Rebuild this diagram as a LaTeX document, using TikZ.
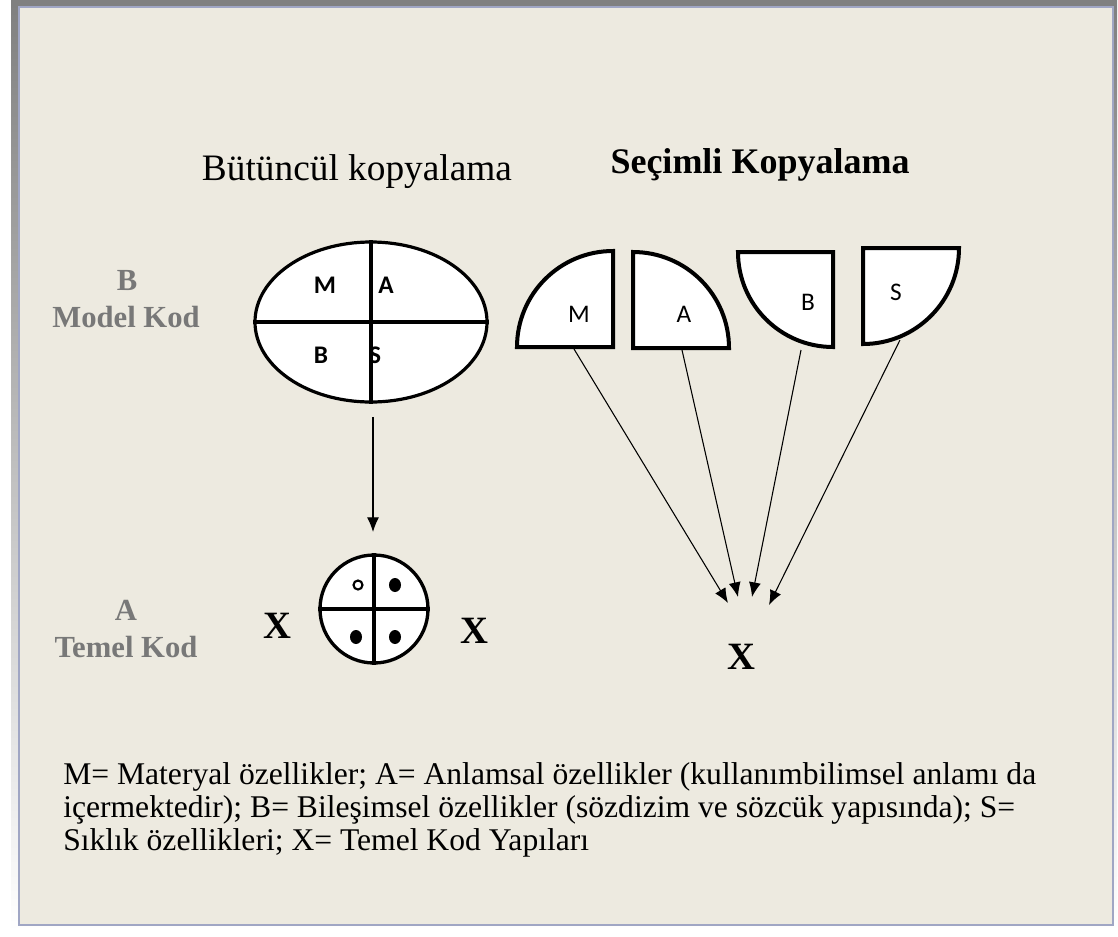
\documentclass[tikz,border=0pt]{standalone}
\usepackage{fontspec}
\setmainfont{Liberation Serif}
\newfontfamily\calibri{Carlito}
\usetikzlibrary{arrows.meta,shapes.geometric}

\definecolor{paper}{RGB}{237,234,224}
\definecolor{shade}{RGB}{165,165,165}
\definecolor{rim}{RGB}{160,166,196}
\definecolor{steel}{RGB}{120,120,120}

\begin{document}
\begin{tikzpicture}[x=0.75pt,y=0.75pt,yscale=-1,xscale=1,
  piece/.style={draw, fill=white, line width=3pt, line join=miter},
  pointer/.style={-{Latex[length=11pt,width=9pt]}, line width=0.8pt},
  title/.style={anchor=base, inner sep=0pt, font=\fontsize{28}{32}\selectfont},
  codelbl/.style={anchor=base, inner sep=0pt, text=steel, font=\bfseries\fontsize{23}{27}\selectfont},
  xmark/.style={inner sep=0pt, font=\bfseries\fontsize{29}{30}\selectfont},
  part/.style={inner sep=0pt, font=\calibri\fontsize{19}{22}\selectfont},
  legend/.style={anchor=base west, inner sep=0pt, font=\fontsize{23.7}{27}\selectfont}]
\useasboundingbox (0,0) rectangle (1118,936);

%Shape: Frame
\fill [white] (0,0) rectangle (1118,936) ;
\fill [shade] (11,0) rectangle (1117,931) ;
\fill [paper, draw=rim, line width=0.8pt] (19,7) rectangle (1113,925) ;

% Text Node
\node [title] (whole-title) at (357,180) {Bütüncül kopyalama};
% Text Node
\node [title, font=\bfseries\fontsize{27}{32}\selectfont] (part-title) at (760,173) {Seçimli Kopyalama};

% Text Node
\node [codelbl] (model-letter) at (127,290) {B};
\node [codelbl] (model-code) at (126,327) {Model Kod};
% Text Node
\node [codelbl] (base-letter) at (126,620) {A};
\node [codelbl] (base-code) at (126,657) {Temel Kod};

%Shape: Ellipse
\node [draw, ellipse, line width=2.4pt, fill=white, minimum width=174pt, minimum height=120pt, inner sep=0pt] (whole) at (371,322) {};
\draw [line width=2.4pt] (whole.north) -- (whole.south) ;
\draw [line width=2.4pt] (whole.west) -- (whole.east) ;
\node [part, font=\calibri\bfseries\fontsize{19}{22}\selectfont] (w-m) at (325,285) {M};
\node [part, font=\calibri\bfseries\fontsize{19}{22}\selectfont] (w-a) at (386,285) {A};
\node [part, font=\calibri\bfseries\fontsize{19}{22}\selectfont] (w-b) at (321,355) {B};
\node [part, font=\calibri\bfseries\fontsize{19}{22}\selectfont] (w-s) at (375,355) {S};

%Shape: Circle
\node [draw, circle, line width=2.5pt, fill=white, minimum size=81pt, inner sep=0pt] (base) at (374,609) {};
\draw [line width=2.5pt] (base.north) -- (base.south) ;
\draw [line width=2.5pt] (base.west) -- (base.east) ;
\draw [line width=1.6pt] (358,585) circle [radius=4.5] ;
\fill (395,585) ellipse [x radius=6, y radius=7] ;
\fill (356,637) ellipse [x radius=6, y radius=7] ;
\fill (395,637) ellipse [x radius=6, y radius=7] ;

%Straight Lines
\draw [pointer, shorten <=10pt, shorten >=16pt] ([xshift=1.5pt]whole.south) -- ([xshift=1.5pt]whole.south |- base.north) ;

% Text Node
\node [xmark] (x-left) at (277,626) {X};
\node [xmark] (x-right) at (474,631) {X};
\node [xmark] (x-part) at (741,657) {X};

%Shape: Quarter pieces
\draw [piece] (613,347) -- (517,347) arc [start angle=180, end angle=270, radius=96] -- cycle ;
\draw [piece] (633,348) -- (633,252) arc [start angle=270, end angle=360, radius=96] -- cycle ;
\draw [piece] (833,252) -- (738,252) arc [start angle=180, end angle=90, radius=95] -- cycle ;
\draw [piece] (863,248) -- (959,248) arc [start angle=0, end angle=90, radius=96] -- cycle ;
\node [part] (p-m) at (579,314) {M};
\node [part] (p-a) at (684,314) {A};
\node [part] (p-b) at (808,302) {B};
\node [part] (p-s) at (896,292) {S};

\coordinate (m-foot) at (574,349) ;
\coordinate (a-foot) at (682,350) ;
\coordinate (b-foot) at (801,350) ;
\coordinate (s-foot) at (900,340) ;
\coordinate (m-tip) at (728,603) ;
\coordinate (a-tip) at (738,597) ;
\coordinate (b-tip) at (752,597) ;
\coordinate (s-tip) at (769,605) ;

%Straight Lines
\draw [pointer] (m-foot) -- (m-tip) ;
\draw [pointer] (a-foot) -- (a-tip) ;
\draw [pointer] (b-foot) -- (b-tip) ;
\draw [pointer] (s-foot) -- (s-tip) ;

% Text Node
\node [legend] (legend-1) at (63,784) {M= Materyal özellikler; A= Anlamsal özellikler (kullanımbilimsel anlamı da};
\node [legend] (legend-2) at (63,817) {içermektedir); B= Bileşimsel özellikler (sözdizim ve sözcük yapısında); S=};
\node [legend] (legend-3) at (63,850) {Sıklık özellikleri; X= Temel Kod Yapıları};

\end{tikzpicture}
\end{document}
